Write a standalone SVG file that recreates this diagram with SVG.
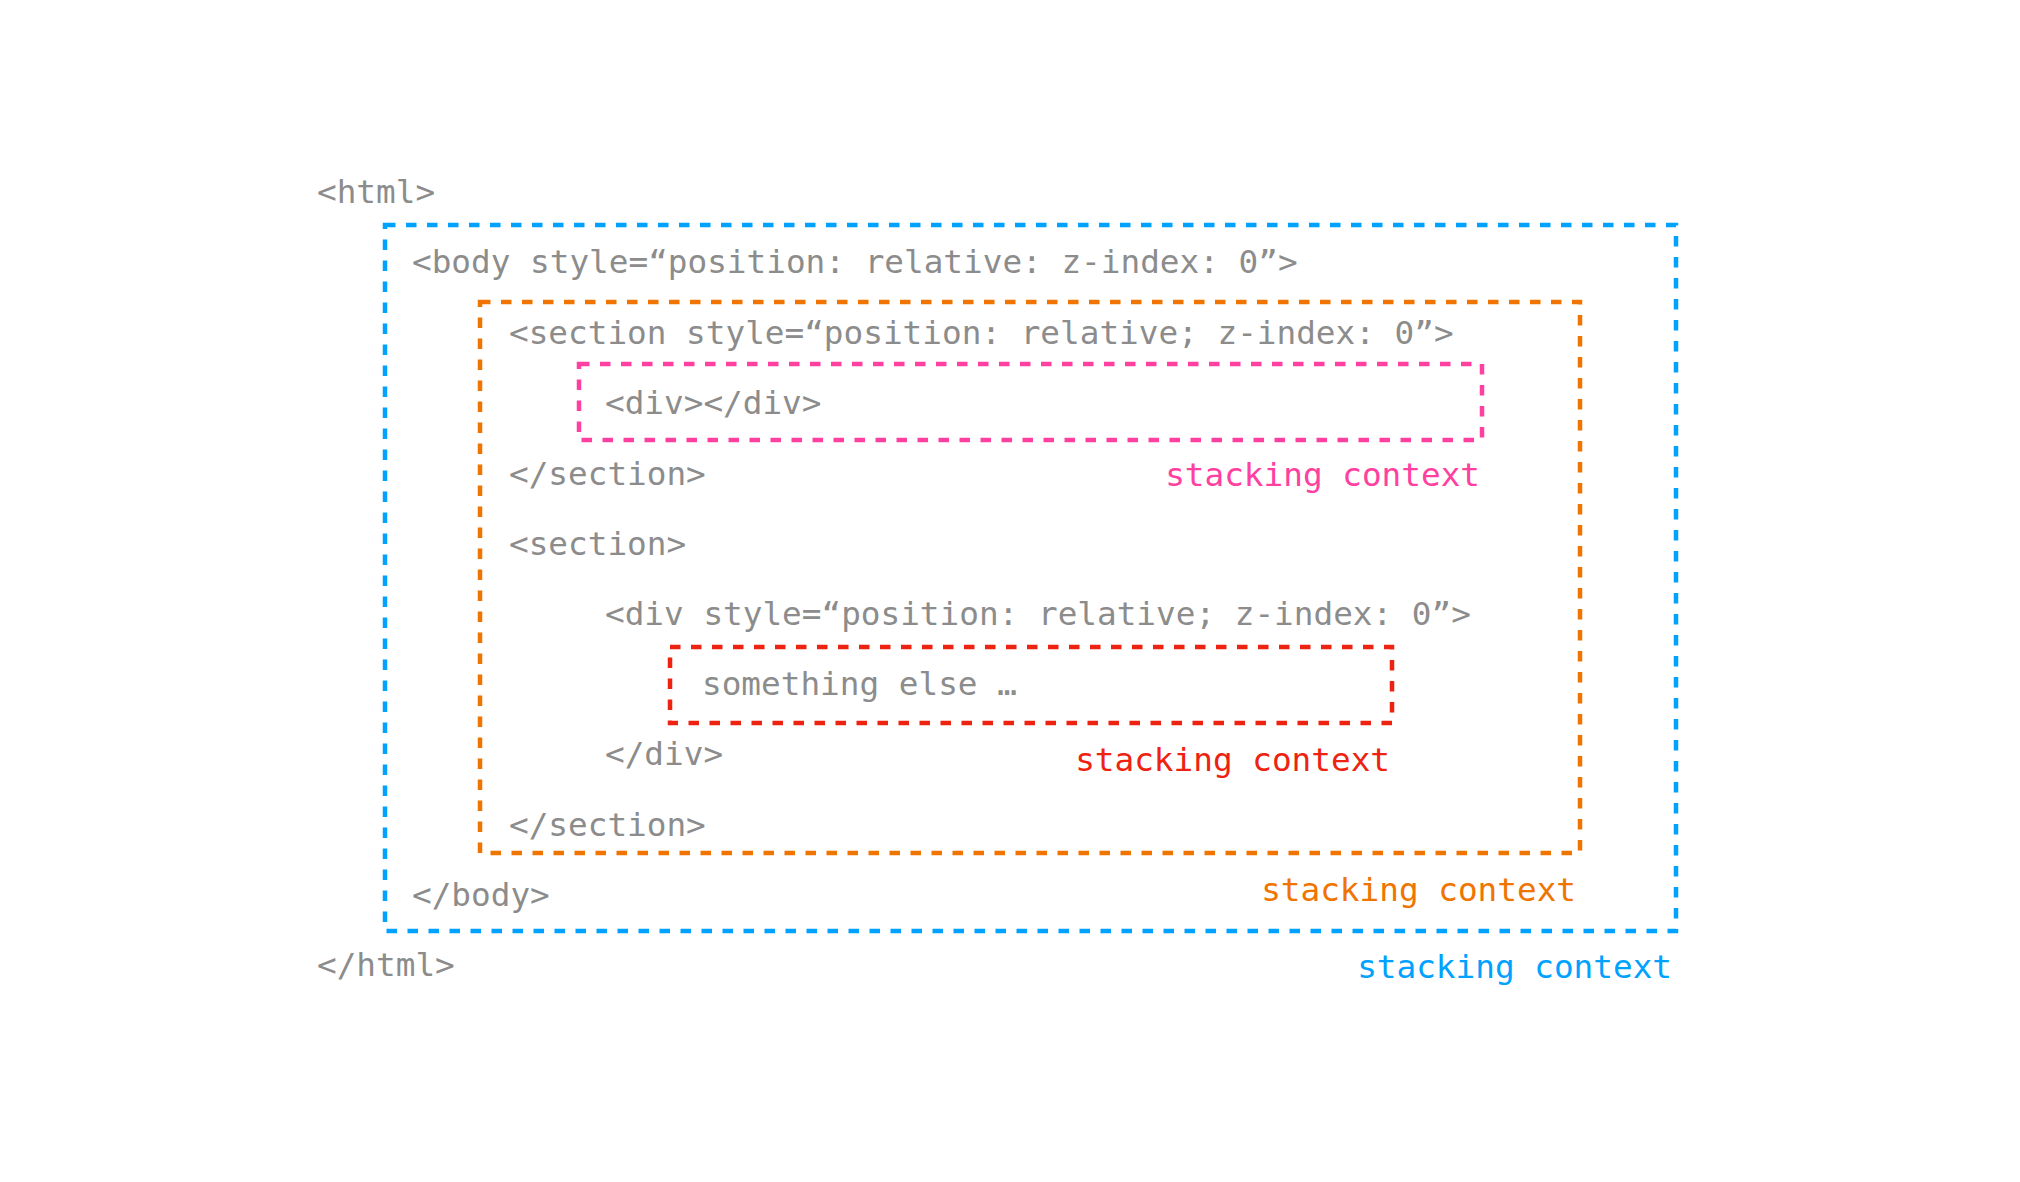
<svg xmlns="http://www.w3.org/2000/svg" width="2020" height="1182" viewBox="0 0 2020 1182">
<style>
.code{font-family:"DejaVu Sans Mono","Liberation Mono",monospace;font-size:32.7px;fill:#8c8c8c}
.lbl{font-family:"DejaVu Sans Mono","Liberation Mono",monospace;font-size:32.7px;text-anchor:end}
.box{fill:none;stroke-width:4.5;stroke-dasharray:10.5 10.5}
</style>
<rect width="2020" height="1182" fill="#ffffff"/>
<g id="blue-context">
<rect class="box" x="385" y="225" width="1291" height="706" stroke="#00a2ff"/>
<text class="lbl" x="1672" y="978" fill="#00a2ff">stacking context</text>
</g>
<g id="orange-context">
<rect class="box" x="480" y="302" width="1100" height="551" stroke="#f07400"/>
<text class="lbl" x="1576" y="901" fill="#f07400">stacking context</text>
</g>
<g id="pink-context">
<rect class="box" x="579" y="364" width="903" height="76" stroke="#ff40a0"/>
<text class="lbl" x="1480" y="486" fill="#ff40a0">stacking context</text>
</g>
<g id="red-context">
<rect class="box" x="670" y="647" width="722" height="76" stroke="#ee2211"/>
<text class="lbl" x="1390" y="771" fill="#ee2211">stacking context</text>
</g>
<g id="code">
<text class="code" x="317" y="203">&lt;html&gt;</text>
<text class="code" x="412" y="273">&lt;body style=“position: relative: z-index: 0”&gt;</text>
<text class="code" x="509" y="344">&lt;section style=“position: relative; z-index: 0”&gt;</text>
<text class="code" x="605" y="414">&lt;div&gt;&lt;/div&gt;</text>
<text class="code" x="509" y="485">&lt;/section&gt;</text>
<text class="code" x="509" y="555">&lt;section&gt;</text>
<text class="code" x="605" y="625">&lt;div style=“position: relative; z-index: 0”&gt;</text>
<text class="code" x="702" y="695">something else …</text>
<text class="code" x="605" y="765">&lt;/div&gt;</text>
<text class="code" x="509" y="836">&lt;/section&gt;</text>
<text class="code" x="412" y="906">&lt;/body&gt;</text>
<text class="code" x="317" y="976">&lt;/html&gt;</text>
</g>
<g id="connectors"></g>
</svg>
